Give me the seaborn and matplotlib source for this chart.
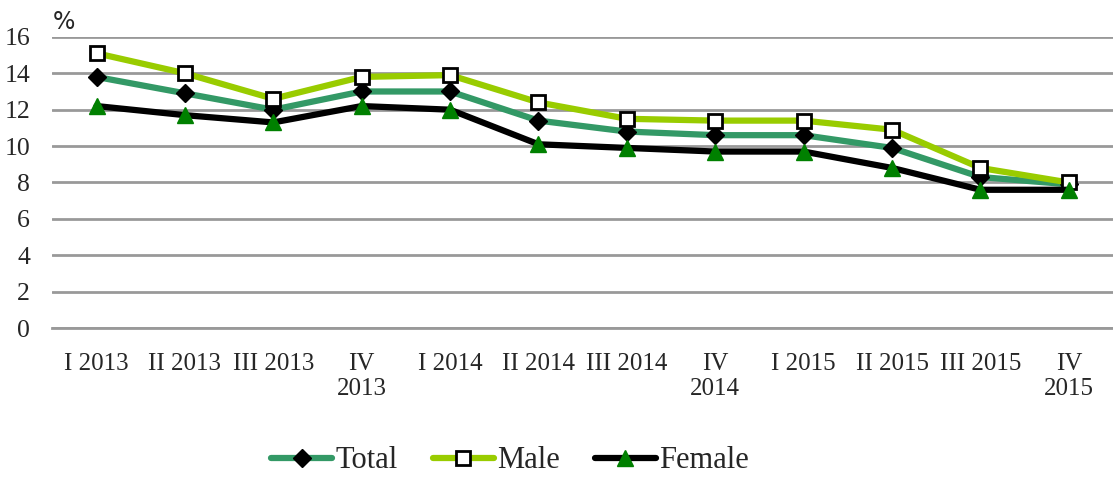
import numpy as np
import pandas as pd
import matplotlib
matplotlib.use("Agg")
import matplotlib.pyplot as plt
import seaborn as sns

# Data
quarters = ["I 2013", "II 2013", "III 2013", "IV\n2013", "I 2014", "II 2014",
            "III 2014", "IV\n2014", "I 2015", "II 2015", "III 2015", "IV\n2015"]
total = [13.8, 12.9, 12.0, 13.0, 13.0, 11.4, 10.8, 10.6, 10.6, 9.9, 8.3, 7.9]
male = [15.1, 14.0, 12.6, 13.8, 13.9, 12.4, 11.5, 11.4, 11.4, 10.9, 8.8, 8.0]
female = [12.2, 11.7, 11.3, 12.2, 12.0, 10.1, 9.9, 9.7, 9.7, 8.8, 7.6, 7.6]

sns.set_style("white")
plt.rcParams["font.family"] = ["Liberation Serif", "DejaVu Serif"]

df = pd.DataFrame({
    "x": np.arange(len(quarters)),
    "Total": total,
    "Male": male,
    "Female": female,
})

styles = {
    "Total": dict(color="#339966", marker="D", mfc="black", mec="black", ms=9.5),
    "Male": dict(color="#99cc00", marker="s", mfc="white", mec="black", ms=10, mew=2),
    "Female": dict(color="black", marker="^", mfc="#008000", mec="#008000", ms=12),
}

fig = plt.figure(figsize=(11.13, 4.79), dpi=100)
ax = fig.add_axes([0.047, 0.315, 0.953, 0.608])

for name in ["Total", "Male", "Female"]:
    st = styles[name]
    sns.lineplot(data=df, x="x", y=name, ax=ax, label=name, color=st["color"],
                 linewidth=4.5, marker=st["marker"], markerfacecolor=st["mfc"],
                 markeredgecolor=st["mec"], markersize=st["ms"],
                 markeredgewidth=st.get("mew", 1), zorder=3)

ax.set_ylim(0, 16)
ax.set_xlim(-0.5, len(quarters) - 0.5)
ax.set_yticks(range(0, 17, 2))
ax.yaxis.grid(True, color="#999999", linewidth=2)
ax.set_axisbelow(True)
ax.set_xticks(np.arange(len(quarters)))
ax.set_xticklabels(quarters, fontsize=18, linespacing=1.15, va="top")
ax.set_xticks(np.arange(len(quarters) + 1) - 0.5, minor=True)
ax.tick_params(axis="x", which="major", length=0, pad=18)
ax.tick_params(axis="x", which="minor", length=7, width=2, color="#999999")
ax.tick_params(axis="y", labelsize=18.5, length=0, pad=16)
ax.set_xlabel("")
ax.set_ylabel("")
for s in ["top", "right", "left"]:
    ax.spines[s].set_visible(False)
ax.spines["bottom"].set_color("#999999")
ax.spines["bottom"].set_linewidth(2)

ax.text(0.0, 1.01, "%", transform=ax.transAxes, fontsize=17,
        family="DejaVu Sans", ha="left", va="bottom")

ax.legend(loc="lower center", bbox_to_anchor=(0.458, -0.05), bbox_transform=fig.transFigure,
          ncol=3, frameon=False, fontsize=22, handlelength=2.0, handletextpad=0.1,
          columnspacing=1.15)

fig.savefig("out.png", dpi=100)
